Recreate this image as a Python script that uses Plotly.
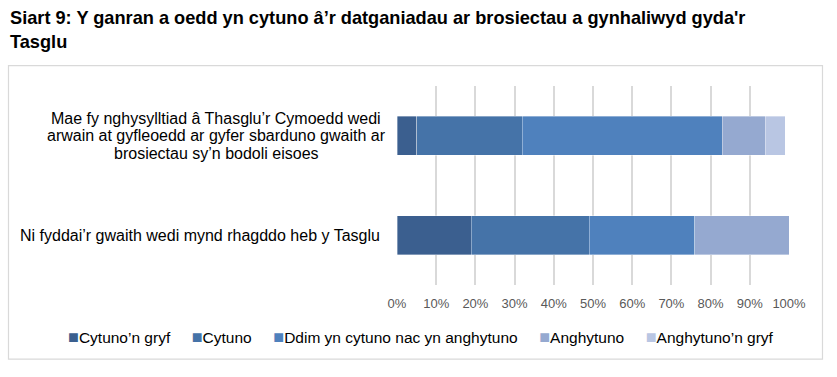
import plotly.graph_objects as go

categories = [
    "Ni fyddai’r gwaith wedi mynd rhagddo heb y Tasglu",
    "Mae fy nghysylltiad â Thasglu’r Cymoedd wedi|arwain at gyfleoedd ar gyfer sbarduno gwaith ar|brosiectau sy’n bodoli eisoes",
]
series_names = ["Cytuno’n gryf", "Cytuno", "Ddim yn cytuno nac yn anghytuno", "Anghytuno", "Anghytuno’n gryf"]
values = [
    [19, 5],
    [30, 27],
    [27, 51],
    [24, 11],
    [0, 5],
]
colors = ["#3B5F8F", "#4573A8", "#4F81BD", "#95A9D0", "#B9C6E3"]
tickvals = [0, 0.1, 0.2, 0.3, 0.4, 0.5, 0.6, 0.7, 0.8, 0.9, 1.0]

FONT = "Liberation Sans, Arial"
L, R, T, B = 397, 48, 85.5, 91.5
W, H = 837, 377
pw, ph = W - L - R, H - T - B

def px_x(p):
    return (p - L) / pw

def px_y(p):
    return (H - B - p) / ph

fig = go.Figure()
ids = list(range(len(categories)))
for name, vals, c in zip(series_names, values, colors):
    fig.add_trace(go.Bar(
        y=ids, x=[v / 100 for v in vals], name=name, orientation="h",
        marker=dict(color=c, line=dict(width=0.6, color="rgba(255,255,255,0.6)")),
        showlegend=False,
    ))

# category labels (centre-aligned multi-line, tight spacing)
line_gap = 17.5
for i, cat in enumerate(categories):
    lines = cat.split("|")
    n = len(lines)
    for j, ln in enumerate(lines):
        shift = ((n - 1) / 2 - j) * line_gap
        if n == 1:
            xpos, anchor = px_x(382), "right"
        else:
            xpos, anchor = px_x(216), "center"
        fig.add_annotation(x=xpos, y=i, xref="paper", yref="y", text=ln,
                           showarrow=False, xanchor=anchor,
                           yanchor="middle", align="center", yshift=shift,
                           font=dict(family=FONT, size=16, color="#000000"))

fig.add_annotation(x=px_x(8), y=px_y(5), xref="paper", yref="paper",
                   text="<b>Siart 9: Y ganran a oedd yn cytuno â’r datganiadau ar brosiectau a gynhaliwyd gyda'r<br>Tasglu</b>",
                   showarrow=False, xanchor="left", yanchor="top", align="left",
                   font=dict(family=FONT, size=18.2, color="#000000"))

# legend row
parts = []
for name, c in zip(series_names, colors):
    parts.append(f'<span style="color:{c};font-size:18px">■</span>{name}')
legend_text = "&nbsp;&nbsp;&nbsp;&nbsp;&nbsp;".join(parts)
fig.add_annotation(x=px_x(421), y=px_y(338), xref="paper", yref="paper",
                   text=legend_text, showarrow=False, xanchor="center", yanchor="middle",
                   font=dict(family=FONT, size=15.5, color="#000000"))

fig.add_shape(type="rect", xref="paper", yref="paper",
              x0=px_x(8.5), x1=px_x(822.5), y0=px_y(360), y1=px_y(65),
              line=dict(color="#D9D9D9", width=1.2), fillcolor="rgba(0,0,0,0)", layer="below")

fig.update_layout(
    width=W, height=H,
    margin=dict(l=L, r=R, t=T, b=B, autoexpand=False),
    paper_bgcolor="white", plot_bgcolor="white",
    barmode="stack", bargap=0.61,
    font=dict(family=FONT, size=13, color="#000000"),
    showlegend=False,
    xaxis=dict(range=[0, 1], tickvals=tickvals, tickformat=".0%",
               showgrid=True, gridcolor="#D9D9D9", gridwidth=1.5,
               zeroline=False, showline=False, ticks="",
               tickfont=dict(family=FONT, size=13, color="#595959"), ticklabelstandoff=9),
    yaxis=dict(range=[-0.5, 1.5], showticklabels=False, showgrid=False,
               zeroline=False, showline=False, ticks=""),
)

fig.write_html("out.html")
